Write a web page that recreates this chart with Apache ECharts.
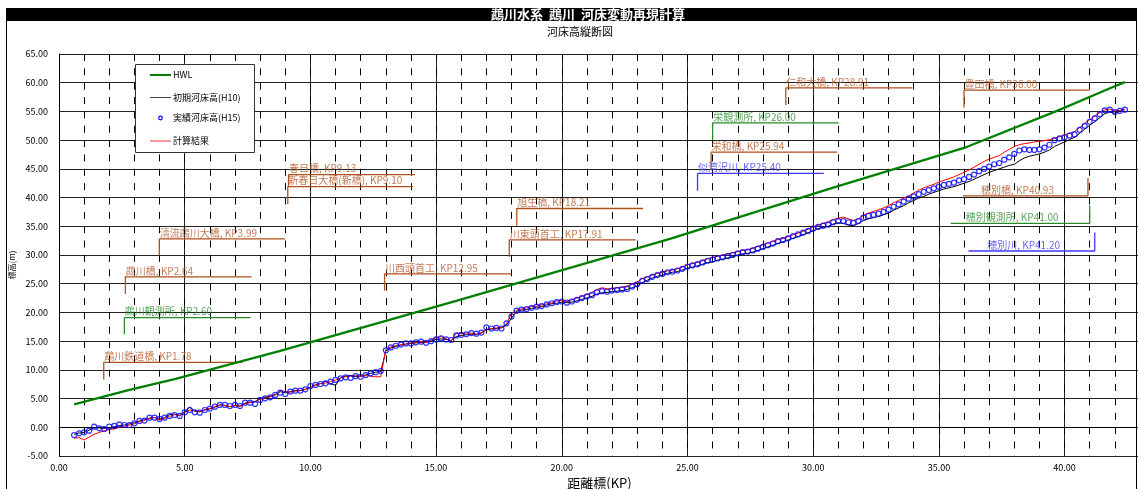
<!DOCTYPE html>
<html><head><meta charset="utf-8">
<script src="https://cdn.jsdelivr.net/npm/echarts@6/dist/echarts.min.js"></script>
<style>html,body{margin:0;padding:0;background:#fff}#c{width:1138px;height:489px}</style>
</head><body><div id="c"></div>
<script>
// ---------------- data ----------------
const TITLE = '鵡川水系  鵡川  河床変動再現計算';
const SUBTITLE = '河床高縦断図';
const X_NAME = '距離標(KP)';
const Y_NAME = '標高(m)';
const SERIES_NAMES = ['HWL', '初期河床高(H10)', '実績河床高(H15)', '計算結果'];

const KP = [
 0.6,0.8,1.0,1.2,1.4,1.6,1.8,2.0,2.2,2.4,
 2.6,2.8,3.0,3.2,3.4,3.6,3.8,4.0,4.2,4.4,
 4.6,4.8,5.0,5.2,5.4,5.6,5.8,6.0,6.2,6.4,
 6.6,6.8,7.0,7.2,7.4,7.6,7.8,8.0,8.2,8.4,
 8.6,8.8,9.0,9.2,9.4,9.6,9.8,10.0,10.2,10.4,
 10.6,10.8,11.0,11.2,11.4,11.6,11.8,12.0,12.2,12.4,
 12.6,12.8,13.0,13.2,13.4,13.6,13.8,14.0,14.2,14.4,
 14.6,14.8,15.0,15.2,15.4,15.6,15.8,16.0,16.2,16.4,
 16.6,16.8,17.0,17.2,17.4,17.6,17.8,18.0,18.2,18.4,
 18.6,18.8,19.0,19.2,19.4,19.6,19.8,20.0,20.2,20.4,
 20.6,20.8,21.0,21.2,21.4,21.6,21.8,22.0,22.2,22.4,
 22.6,22.8,23.0,23.2,23.4,23.6,23.8,24.0,24.2,24.4,
 24.6,24.8,25.0,25.2,25.4,25.6,25.8,26.0,26.2,26.4,
 26.6,26.8,27.0,27.2,27.4,27.6,27.8,28.0,28.2,28.4,
 28.6,28.8,29.0,29.2,29.4,29.6,29.8,30.0,30.2,30.4,
 30.6,30.8,31.0,31.2,31.4,31.6,31.8,32.0,32.2,32.4,
 32.6,32.8,33.0,33.2,33.4,33.6,33.8,34.0,34.2,34.4,
 34.6,34.8,35.0,35.2,35.4,35.6,35.8,36.0,36.2,36.4,
 36.6,36.8,37.0,37.2,37.4,37.6,37.8,38.0,38.2,38.4,
 38.6,38.8,39.0,39.2,39.4,39.6,39.8,40.0,40.2,40.4,
 40.6,40.8,41.0,41.2,41.4,41.6,41.8,42.0,42.2,42.4
];

// 実績河床高(H15)
const H15 = [
 -1.34,-1.05,-0.88,-0.59,0.11,-0.18,-0.30,0.11,0.23,0.52,
 0.40,0.40,0.69,1.10,1.16,1.68,1.68,1.45,1.68,1.97,
 2.14,1.97,2.61,3.01,2.61,2.55,3.01,3.25,3.59,3.89,
 3.89,3.71,3.89,3.71,4.29,4.29,4.06,4.76,5.05,5.22,
 5.63,6.03,5.80,6.21,6.38,6.38,6.61,7.19,7.37,7.54,
 7.66,7.95,8.24,8.5,8.7,8.6,8.9,8.8,9.1,9.4,
 9.6,9.8,13.4,13.9,14.2,14.4,14.6,14.6,14.8,14.9,
 14.7,15.0,15.3,15.5,15.3,15.2,16.0,16.1,16.2,16.4,
 16.3,16.5,17.4,17.2,17.3,17.2,18.1,19.3,20.3,20.5,
 20.6,20.8,21.0,21.1,21.4,21.6,21.8,21.9,21.7,21.9,
 22.2,22.5,22.8,23.0,23.5,23.7,23.6,23.8,23.9,24.0,
 24.1,24.5,24.9,25.5,25.8,26.2,26.5,26.7,27.0,27.1,
 27.3,27.6,28.0,28.2,28.4,28.7,29.0,29.2,29.4,29.6,
 29.8,30.0,30.3,30.5,30.6,30.8,31.1,31.4,31.7,32.0,
 32.4,32.6,32.9,33.3,33.6,33.9,34.2,34.6,34.9,35.1,
 35.3,35.7,35.9,35.9,35.7,35.6,35.9,36.5,36.8,37.0,
 37.2,37.5,37.9,38.4,38.8,39.3,39.8,40.2,40.6,41.0,
 41.3,41.6,41.9,42.2,42.4,42.6,43.0,43.2,43.6,44.0,
 44.6,45.0,45.4,45.8,46.0,46.6,47.0,47.6,48.2,48.4,
 48.3,48.3,48.4,48.7,49.2,50.0,50.3,50.5,50.8,51.0,
 51.8,52.5,53.2,53.8,54.5,55.2,55.3,54.9,55.1,55.3
];

// 初期河床高(H10)
const H10 = [
 -1.2,-1.0,-0.9,-0.5,-0.1,-0.1,-0.2,-0.1,0.1,0.3,
 0.4,0.6,0.8,1.1,1.3,1.6,1.7,1.4,1.7,2.2,
 2.3,2.0,2.7,3.5,2.8,2.7,3.0,3.2,3.5,3.9,
 3.8,3.6,3.8,3.7,4.2,4.4,4.4,5.0,5.2,5.4,
 5.7,6.2,6.0,6.2,6.4,6.4,6.6,7.0,7.4,7.6,
 8.0,7.6,7.3,8.6,8.9,9.0,8.8,8.9,9.1,9.4,
 9.6,9.7,13.3,13.8,14.1,14.3,14.5,14.6,14.7,14.8,
 14.8,15.0,15.3,15.4,15.3,15.1,15.8,16.0,16.1,16.2,
 16.2,16.4,17.0,17.1,17.2,17.3,17.8,19.0,20.2,20.4,
 20.5,20.7,20.9,21.0,21.3,21.5,21.6,21.8,21.7,21.8,
 22.0,22.3,22.5,22.8,23.2,23.4,23.5,23.6,23.7,23.8,
 24.0,24.3,24.6,25.2,25.6,26.0,26.3,26.5,26.8,27.0,
 27.1,27.4,27.7,27.9,28.1,28.4,28.7,28.8,29.1,29.3,
 29.5,29.7,30.0,30.2,30.3,30.5,30.8,31.1,31.4,31.7,
 32.0,32.3,32.6,32.9,33.2,33.5,33.9,34.2,34.6,34.8,
 35.0,35.4,35.6,35.5,35.2,35.1,35.5,36.0,36.3,36.5,
 36.7,37.0,37.3,37.8,38.2,38.6,39.1,39.5,39.9,40.2,
 40.6,40.9,41.2,41.5,41.7,41.9,42.2,42.5,42.8,43.2,
 43.6,44.0,44.4,44.7,45.0,45.3,45.6,45.8,46.4,46.9,
 47.2,47.4,47.6,47.9,48.3,48.9,49.3,49.7,50.1,50.5,
 51.2,51.9,52.6,53.2,53.9,54.6,54.9,54.7,55.0,55.3
];

// 計算結果
const CALC = [
 -1.9,-1.8,-2.2,-1.7,-1.2,-0.9,-0.6,-0.4,-0.3,0.0,
 0.2,0.4,0.6,1.0,1.2,1.6,1.7,1.3,1.5,1.9,
 2.2,2.1,2.6,3.0,2.9,2.7,3.1,3.3,3.6,3.9,
 3.8,3.6,3.8,3.6,4.1,4.3,4.5,4.9,5.1,5.3,
 5.6,6.4,6.2,6.1,6.3,6.4,6.6,7.0,7.3,7.6,
 7.7,8.0,8.2,8.6,8.8,8.9,9.0,8.9,9.0,8.9,
 8.8,8.8,13.6,14.0,14.2,14.4,14.5,14.7,14.8,14.9,
 14.8,15.2,15.6,15.8,15.4,15.0,16.4,16.3,16.4,16.4,
 16.2,16.5,17.0,17.2,17.3,17.4,18.0,19.8,20.4,20.6,
 20.8,21.0,21.1,21.3,21.5,21.7,22.0,22.1,21.9,22.2,
 22.5,22.8,23.1,23.5,24.0,24.3,24.1,24.2,24.3,24.4,
 24.6,25.0,25.3,25.9,26.2,26.5,26.8,27.0,27.2,27.4,
 27.6,27.9,28.3,28.5,28.7,29.0,29.3,29.6,29.8,30.0,
 30.2,30.4,30.6,30.8,30.9,31.2,31.5,31.8,32.1,32.4,
 32.7,32.9,33.2,33.5,33.8,34.1,34.5,34.9,35.2,35.5,
 35.8,36.2,36.4,36.6,36.3,36.0,36.3,36.9,37.3,37.6,
 37.9,38.2,38.6,39.1,39.5,39.9,40.3,40.8,41.3,41.7,
 42.0,42.3,42.7,43.0,43.3,43.6,44.0,44.4,44.8,45.3,
 45.8,46.3,46.7,47.0,47.3,47.9,48.4,48.9,49.2,49.4,
 49.5,49.7,49.8,49.9,50.1,50.3,50.6,50.9,51.2,51.5,
 52.2,52.9,53.6,54.2,54.8,55.3,55.4,55.1,55.2,55.4
];

// HWL
const HWL_KP = [0.6, 2.8, 4.6, 8.8, 15.8, 24.3, 30.7, 36.1, 39.7, 41.9, 42.4];
const HWL_Z  = [4.0, 6.5, 8.4, 13.3, 22.0, 32.8, 41.6, 48.8, 55.1, 59.2, 60.1];

// annotations (structures)
const ANN_NAMES = ['鵡川鉄道橋, KP1.78','鵡川観測所, KP2.60','鵡川橋, KP2.64','清流鵡川大橋, KP3.99',
  '春日橋, KP9.13','新春日大橋(新橋), KP9.10','川西頭首工, KP12.95','川東頭首工, KP17.91','旭生橋, KP18.21',
  '似湾沢川, KP25.40','栄和橋, KP25.94','栄観測所, KP26.00','仁和大橋, KP28.91','豊田橋, KP36.00',
  '穂別橋, KP40.93','穂別観測所, KP41.00','穂別川, KP41.20'];
const ANN_KP    = [1.78, 2.60, 2.64, 3.99, 9.13, 9.10, 12.95, 17.91, 18.21, 25.40, 25.94, 26.00, 28.91, 36.00, 40.93, 41.00, 41.20];
const ANN_LEVEL = [11.3, 19.1, 26.2, 32.8, 44.0, 41.9, 26.7, 32.65, 38.1, 44.2, 47.9, 53.0, 59.1, 58.7, 40.3, 35.5, 30.7];
const ANN_FOOT  = [8.3, 16.2, 23.2, 29.9, 41.9, 38.9, 23.8, 29.7, 35.1, 41.2, 44.8, 50.0, 56.1, 55.7, 43.4, 38.6, 33.9];
const ANN_TAIL  = [7.30, 7.62, 7.66, 8.99, 14.16, 14.09, 18.0, 22.94, 23.23, 30.42, 30.96, 31.01, 33.94, 41.0, 35.96, 35.47, 36.18];
const ANN_TYPE  = ['bridge','station','bridge','bridge','bridge','bridge','weir','weir','bridge',
  'river','bridge','station','bridge','bridge','bridge','station','river'];

// ---------------- chart ----------------
const FONT = '"Noto Sans CJK JP", "Noto Sans", sans-serif';
const LINE_COLORS = {bridge:'#b0501c', weir:'#b0501c', station:'#2a8a2a', river:'#3a3aff'};
const TEXT_COLORS = {bridge:'#b4592a', weir:'#b4592a', station:'#2f912f', river:'#3c3cff'};
const pts = (xs, ys) => xs.map((x, i) => [x, ys[i]]);

const chart = echarts.init(document.getElementById('c'), null, {renderer: 'canvas'});

const annLines = ANN_NAMES.map((n, i) => ({
  type: 'line', silent: true, symbol: 'none', animation: false, z: 4,
  data: [[ANN_KP[i], ANN_FOOT[i]], [ANN_KP[i], ANN_LEVEL[i]], [ANN_TAIL[i], ANN_LEVEL[i]]],
  lineStyle: {color: LINE_COLORS[ANN_TYPE[i]], width: 1.3}
}));

const annLabels = {
  type: 'scatter', silent: true, animation: false, symbolSize: 1, z: 5,
  itemStyle: {color: 'rgba(0,0,0,0)'},
  data: ANN_NAMES.map((n, i) => {
    const right = ANN_TAIL[i] > ANN_KP[i];
    return {
      value: [right ? ANN_KP[i] : (ANN_KP[i] + ANN_TAIL[i]) / 2, ANN_LEVEL[i]],
      label: {
        show: true, formatter: n, position: right ? 'right' : 'inside', distance: 0,
        offset: right ? [0, -6] : [-8, -6], color: TEXT_COLORS[ANN_TYPE[i]],
        fontSize: 10, fontFamily: FONT
      }
    };
  })
};

const fmt2 = v => v.toFixed(2);

const option = {
  animation: false,
  backgroundColor: '#fff',
  grid: {left: 59, top: 54, width: 1081, height: 402, containLabel: false, outerBoundsMode: 'none'},
  xAxis: [{
    type: 'value', min: 0, max: 43, interval: 5,
    axisLine: {show: true, lineStyle: {color: '#000', width: 1}},
    axisTick: {show: false},
    axisLabel: {formatter: fmt2, fontSize: 9, color: '#000', margin: 7, showMaxLabel: false, fontFamily: FONT},
    splitLine: {show: true, lineStyle: {color: '#222', width: 1}},
    name: X_NAME, nameLocation: 'middle', nameGap: 19,
    nameTextStyle: {fontSize: 13, color: '#000', fontFamily: FONT}
  }, {
    type: 'value', min: 0, max: 43, interval: 1, position: 'bottom',
    axisLine: {show: false}, axisTick: {show: false}, axisLabel: {show: false},
    splitLine: {show: true, lineStyle: {color: '#000', width: 1, type: [7, 7.35]}}
  }],
  yAxis: {
    type: 'value', min: -5, max: 65, interval: 5,
    axisLine: {show: true, lineStyle: {color: '#000', width: 1}},
    axisTick: {show: false},
    axisLabel: {formatter: fmt2, fontSize: 9, color: '#000', margin: 11, fontFamily: FONT},
    splitLine: {show: true, lineStyle: {color: '#222', width: 1}}
  },
  series: [
    {name: SERIES_NAMES[0], type: 'line', data: pts(HWL_KP, HWL_Z), symbol: 'none', z: 6,
     lineStyle: {color: '#008000', width: 2.3}},
    {name: SERIES_NAMES[1], type: 'line', data: pts(KP, H10), symbol: 'none', z: 6,
     lineStyle: {color: '#000', width: 1}},
    {name: SERIES_NAMES[3], type: 'line', data: pts(KP, CALC), symbol: 'none', z: 7,
     lineStyle: {color: '#ff0000', width: 1}},
    {name: SERIES_NAMES[2], type: 'scatter', data: pts(KP, H15), symbol: 'circle', symbolSize: 5, z: 8,
     itemStyle: {color: 'rgba(255,255,255,0)', borderColor: '#0000ff', borderWidth: 1.2}},
    ...annLines, annLabels
  ],
  graphic: [
    {type: 'rect', shape: {x: 6.5, y: 8, width: 1130, height: 13}, style: {fill: '#000'}, z: 100},
    {type: 'text', x: 588, y: 14.5, z: 101,
     style: {text: TITLE, fill: '#fff', font: 'bold 13px ' + FONT, textAlign: 'center', verticalAlign: 'middle', textVerticalAlign: 'middle'}},
    {type: 'text', x: 580, y: 32, z: 101,
     style: {text: SUBTITLE, fill: '#000', font: '11px ' + FONT, textAlign: 'center', verticalAlign: 'middle', textVerticalAlign: 'middle'}},
    {type: 'line', shape: {x1: 6.5, y1: 8, x2: 6.5, y2: 489}, style: {stroke: '#000', lineWidth: 1}, z: 100},
    {type: 'line', shape: {x1: 1136.5, y1: 8, x2: 1136.5, y2: 489}, style: {stroke: '#000', lineWidth: 1}, z: 100},
    {type: 'text', x: 12, y: 265, rotation: Math.PI / 2, z: 101,
     style: {text: Y_NAME, fill: '#000', font: '8px ' + FONT, textAlign: 'center', verticalAlign: 'middle', textVerticalAlign: 'middle'}},
    // legend box
    {type: 'rect', shape: {x: 135.5, y: 64.5, width: 119, height: 88}, style: {fill: '#fff', stroke: '#333', lineWidth: 1}, z: 100},
    {type: 'line', shape: {x1: 150, y1: 75, x2: 171, y2: 75}, style: {stroke: '#008000', lineWidth: 2}, z: 101},
    {type: 'line', shape: {x1: 150, y1: 97.5, x2: 171, y2: 97.5}, style: {stroke: '#444', lineWidth: 1}, z: 101},
    {type: 'circle', shape: {cx: 160.5, cy: 118, r: 1.8}, style: {fill: 'rgba(255,255,255,0)', stroke: '#0000ff', lineWidth: 1.2}, z: 101},
    {type: 'line', shape: {x1: 150, y1: 141, x2: 171, y2: 141}, style: {stroke: '#ff3030', lineWidth: 1}, z: 101},
    {type: 'text', x: 173, y: 75, z: 101, style: {text: SERIES_NAMES[0], fill: '#000', font: '9px ' + FONT, verticalAlign: 'middle', textVerticalAlign: 'middle'}},
    {type: 'text', x: 173, y: 97.5, z: 101, style: {text: SERIES_NAMES[1], fill: '#000', font: '9px ' + FONT, verticalAlign: 'middle', textVerticalAlign: 'middle'}},
    {type: 'text', x: 173, y: 118, z: 101, style: {text: SERIES_NAMES[2], fill: '#000', font: '9px ' + FONT, verticalAlign: 'middle', textVerticalAlign: 'middle'}},
    {type: 'text', x: 173, y: 141, z: 101, style: {text: SERIES_NAMES[3], fill: '#000', font: '9px ' + FONT, verticalAlign: 'middle', textVerticalAlign: 'middle'}}
  ]
};
chart.setOption(option);
</script>
</body></html>
